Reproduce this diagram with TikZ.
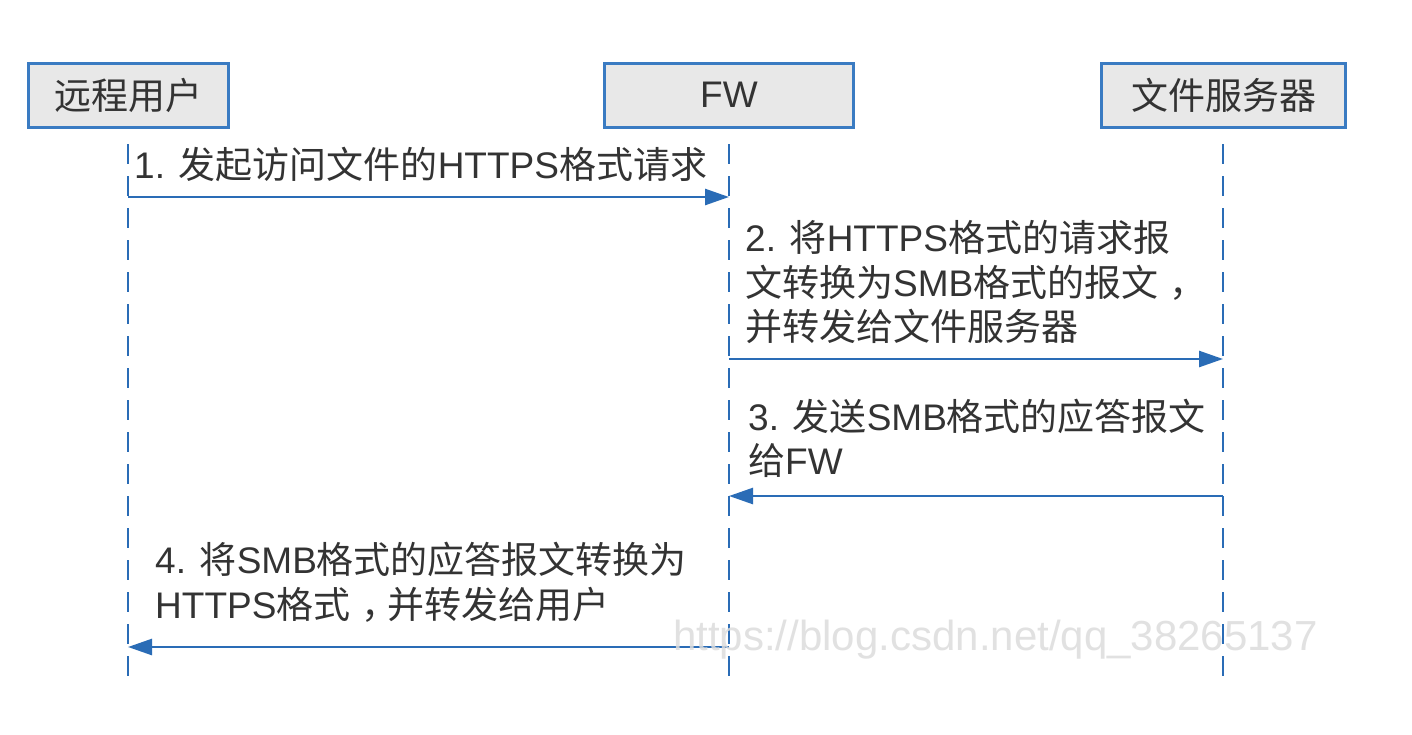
\documentclass[tikz,border=0pt]{standalone}
\usepackage{fontspec}
\setmainfont{Noto Sans CJK SC}
\newfontfamily\lat{Liberation Sans}
\usetikzlibrary{arrows.meta}
\definecolor{lineblue}{HTML}{2A6CB6}
\definecolor{boxblue}{HTML}{3A7BC2}
\definecolor{boxfill}{HTML}{E8E8E8}
\definecolor{txt}{HTML}{333333}
\definecolor{wm}{HTML}{DCDCDC}
\newcommand{\La}[1]{{\lat #1}}
\newcommand{\cm}{\makebox[1em][l]{\hspace{0.3em}，}}
\begin{document}
\begin{tikzpicture}[x=1pt,y=-1pt,
  actor/.style={draw=boxblue,line width=3pt,fill=boxfill,inner sep=0pt,
    minimum height=64pt,text=txt,font=\fontsize{37}{45}\selectfont},
  lifeline/.style={draw=lineblue,line width=2.5pt,dash pattern=on 20pt off 12pt,dash phase=-4pt},
  msg/.style={draw=lineblue,line width=2.6pt,-{Triangle[length=24pt,width=16pt]}},
  lbl/.style={anchor=base west,inner sep=0pt,text=txt,font=\fontsize{37}{45}\selectfont}]
\useasboundingbox (0,0) rectangle (1412,734);
\fill[white] (0,0) rectangle (1412,734);

% actors
\node[actor,minimum width=200pt] (user) at (128.5,95.5) {远程用户};
\node[actor,minimum width=249pt] (fw) at (729,95) {\La{FW}};
\node[actor,minimum width=244pt] (srv) at (1223.5,95.5) {文件服务器};

% lifeline ends
\coordinate (userTop) at (128,140);
\coordinate (userBot) at (128,678);
\coordinate (fwTop) at (729,140);
\coordinate (fwBot) at (729,678);
\coordinate (srvTop) at (1223,140);
\coordinate (srvBot) at (1223,678);
\draw[lifeline] (userTop) -- (userBot);
\draw[lifeline] (fwTop) -- (fwBot);
\draw[lifeline] (srvTop) -- (srvBot);

% message points
\coordinate (m1a) at (128,197);
\coordinate (m1b) at (729,197);
\coordinate (m2a) at (729,359);
\coordinate (m2b) at (1223,359);
\coordinate (m3a) at (1223,496);
\coordinate (m3b) at (729,496);
\coordinate (m4a) at (729,647);
\coordinate (m4b) at (128,647);

\draw[msg] (m1a) -- (m1b);
\draw[msg] (m2a) -- (m2b);
\draw[msg] (m3a) -- (m3b);
\draw[msg] (m4a) -- (m4b);

% labels
\node[lbl] (l1) at (134,178) {\La{1. }发起访问文件的\La{HTTPS}格式请求};

\node[lbl] (l2a) at (745,251) {\La{2. }将\La{HTTPS}格式的请求报};
\node[lbl] (l2b) at (745,296) {文转换为\La{SMB}格式的报文\cm};
\node[lbl] (l2c) at (745,340) {并转发给文件服务器};

\node[lbl] (l3a) at (748,430) {\La{3. }发送\La{SMB}格式的应答报文};
\node[lbl] (l3b) at (748,474) {给\La{FW}};

\node[lbl] (l4a) at (155,573) {\La{4. }将\La{SMB}格式的应答报文转换为};
\node[lbl] (l4b) at (155,618) {\La{HTTPS}格式\cm 并转发给用户};

% watermark
\node[anchor=base west,inner sep=0pt,text=wm,opacity=0.85,font=\lat\fontsize{42}{42}\selectfont] (wmk) at (673,650) {https://blog.csdn.net/qq\_38265137};
\end{tikzpicture}
\end{document}
